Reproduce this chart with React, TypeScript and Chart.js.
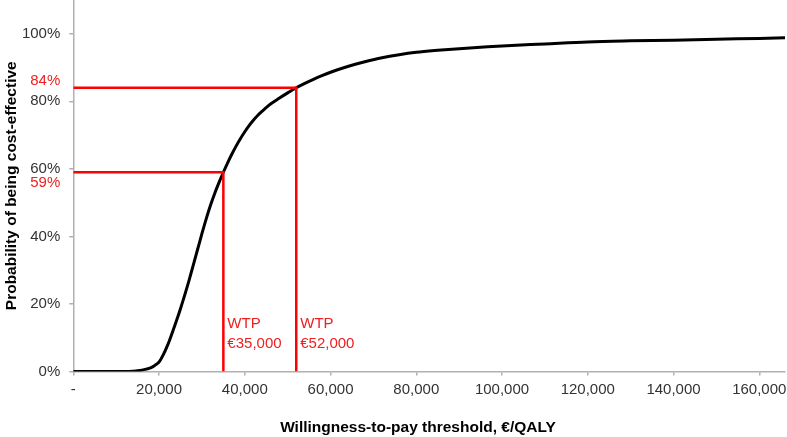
import React, { useEffect, useRef } from "react";
import { Chart, registerables } from "chart.js";

Chart.register(...registerables);

// Willingness-to-pay thresholds (€/QALY)
const wtp = [
  0, 4000, 8000, 12000, 14000, 15000, 16000, 17000, 18000, 19000, 20000, 21000,
  22000, 23000, 24000, 25000, 26000, 27000, 28000, 29000, 30000, 31000, 32000,
  33000, 34000, 35000, 36000, 37000, 38000, 39000, 40000, 41000, 42000, 43000,
  44000, 46000, 48000, 50000, 52000, 54000, 56000, 58000, 60000, 64000, 68000,
  72000, 76000, 80000, 85000, 90000, 95000, 100000, 110000, 120000, 130000,
  140000, 150000, 160000, 166000,
];
// Probability of being cost-effective
const prob = [
  0, 0, 0, 0, 0.001, 0.002, 0.004, 0.007, 0.011, 0.018, 0.028, 0.05, 0.078,
  0.112, 0.148, 0.186, 0.227, 0.27, 0.316, 0.362, 0.408, 0.452, 0.492, 0.528,
  0.56, 0.59, 0.618, 0.644, 0.668, 0.69, 0.71, 0.728, 0.744, 0.758, 0.77,
  0.792, 0.809, 0.825, 0.84, 0.853, 0.865, 0.876, 0.886, 0.903, 0.917, 0.929,
  0.938, 0.945, 0.951, 0.956, 0.96, 0.964, 0.97, 0.976, 0.979, 0.981, 0.984,
  0.986, 0.988,
];

const xTicks = [0, 20000, 40000, 60000, 80000, 100000, 120000, 140000, 160000];
const yTicks = [0, 0.2, 0.4, 0.6, 0.8, 1.0];

// Highlighted thresholds
const markWtp = [35000, 52000];
const markProb = [0.59, 0.84];
const markWtpLabels = ["€35,000", "€52,000"];
const markProbLabels = ["59%", "84%"];

const xTitle = "Willingness-to-pay threshold, €/QALY";
const yTitle = "Probability of being cost-effective";

const FONT = '"Liberation Sans", Arial, sans-serif';
const RED = "#ff0000";
const RED_TEXT = "#ee2020";
const AXIS = "#b0b0b0";
const TICK_TEXT = "#333333";

export default function App() {
  const ref = useRef<HTMLCanvasElement | null>(null);

  useEffect(() => {
    if (!ref.current) return;

    const annot = {
      id: "annot",
      afterDraw(chart: any) {
        const { ctx, chartArea, scales } = chart;
        const xs = scales.x;
        const ys = scales.y;
        ctx.save();
        ctx.fillStyle = RED_TEXT;
        ctx.font = `15px ${FONT}`;
        ctx.textBaseline = "middle";
        ctx.textAlign = "right";
        ctx.fillText(markProbLabels[1], chartArea.left - 13, ys.getPixelForValue(markProb[1]) - 7);
        ctx.fillText(markProbLabels[0], chartArea.left - 13, ys.getPixelForValue(markProb[0]) + 11);
        ctx.textAlign = "left";
        markWtp.forEach((w, i) => {
          const px = xs.getPixelForValue(w) + 4;
          ctx.fillText("WTP", px, chartArea.bottom - 48);
          ctx.fillText(markWtpLabels[i], px, chartArea.bottom - 28);
        });
        ctx.fillStyle = "#000";
        ctx.font = `bold 15.5px ${FONT}`;
        ctx.textAlign = "center";
        ctx.fillText(xTitle, 418, 428);
        ctx.translate(12, (chartArea.top + chartArea.bottom) / 2);
        ctx.rotate(-Math.PI / 2);
        ctx.fillText(yTitle, 0, 0);
        ctx.restore();
      },
    };

    const curve = wtp.map((x, i) => ({ x, y: prob[i] }));
    const markSets = markWtp.map((w, i) => ({
      data: [
        { x: 0, y: markProb[i] },
        { x: w, y: markProb[i] },
        { x: w, y: 0 },
      ],
      borderColor: RED,
      borderWidth: 2.5,
      pointRadius: 0,
      showLine: true,
      tension: 0,
    }));

    const chart = new Chart(ref.current, {
      type: "scatter",
      data: {
        datasets: [
          ...markSets,
          {
            data: curve,
            borderColor: "#000",
            borderWidth: 3,
            pointRadius: 0,
            showLine: true,
            cubicInterpolationMode: "monotone",
          },
        ] as any,
      },
      options: {
        animation: false,
        responsive: true,
        maintainAspectRatio: false,
        layout: { padding: { left: 0, top: 0, bottom: 0, right: 2 } },
        plugins: { legend: { display: false }, tooltip: { enabled: false } },
        scales: {
          x: {
            type: "linear",
            min: 0,
            max: 166000,
            afterBuildTicks: (s: any) => {
              s.ticks = xTicks.map((v) => ({ value: v }));
            },
            afterFit: (s: any) => {
              s.height = 65.5;
              s.paddingLeft = 0;
              s.paddingRight = 0;
            },
            ticks: {
              autoSkip: false,
              maxRotation: 0,
              padding: 5,
              color: TICK_TEXT,
              font: { size: 15, family: FONT },
              callback: (v: any) => (v === 0 ? "-" : Number(v).toLocaleString("en-US")),
            },
            grid: { drawOnChartArea: false, drawTicks: true, tickLength: 4, color: AXIS, lineWidth: 1.5 },
            border: { display: true, color: AXIS, width: 1.5 },
          },
          y: {
            type: "linear",
            min: 0,
            max: 1.1,
            afterBuildTicks: (s: any) => {
              s.ticks = yTicks.map((v) => ({ value: v }));
            },
            afterFit: (s: any) => {
              s.width = 73.3;
              s.paddingTop = 0;
              s.paddingBottom = 0;
            },
            ticks: {
              autoSkip: false,
              padding: 9,
              color: TICK_TEXT,
              font: { size: 15, family: FONT },
              callback: (v: any) => Math.round(Number(v) * 100) + "%",
            },
            grid: { drawOnChartArea: false, drawTicks: true, tickLength: 4, color: AXIS, lineWidth: 1.5 },
            border: { display: true, color: AXIS, width: 1.5 },
          },
        },
      },
      plugins: [annot],
    });
    return () => chart.destroy();
  }, []);

  return (
    <div style={{ position: "absolute", left: 0, top: 0, width: 787, height: 437, background: "#fff" }}>
      <canvas ref={ref} />
    </div>
  );
}
